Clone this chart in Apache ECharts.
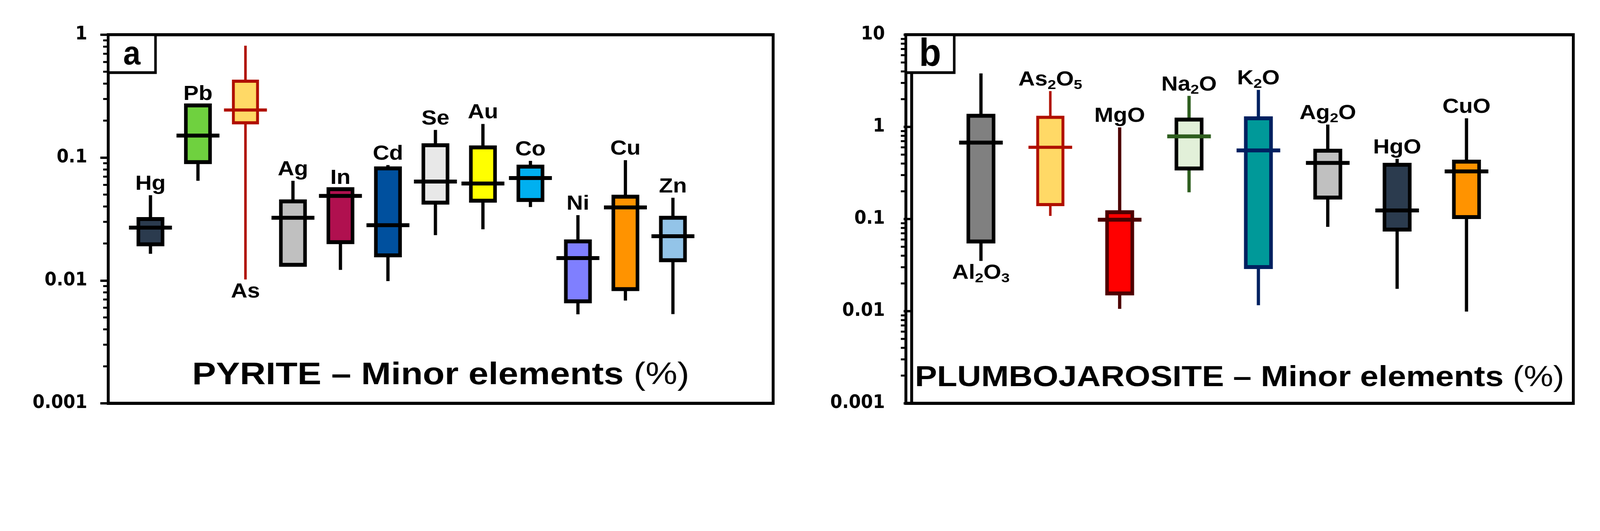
<!DOCTYPE html>
<html>
<head>
<meta charset="utf-8">
<script src="https://cdn.jsdelivr.net/npm/echarts@6/dist/echarts.min.js"></script>
<style>
html, body { margin: 0; padding: 0; background: #fff; overflow: hidden; }
#chart { width: 4435px; height: 1360px; transform-origin: 0 0; }
</style>
</head>
<body>
<div id="chart"></div>
<script>
document.addEventListener('DOMContentLoaded', function () {

/* PANEL A - PYRITE */
var pyriteNames = ['Hg', 'Pb', 'As', 'Ag', 'In', 'Cd', 'Se', 'Au', 'Co', 'Ni', 'Cu', 'Zn'];
var pyriteMin = [0.0165, 0.0648, 0.0102, 0.0134, 0.0122, 0.00987, 0.0234, 0.0261, 0.0396, 0.0053, 0.00687, 0.00532];
var pyriteQ1  = [0.0197, 0.0918, 0.192, 0.0134, 0.0205, 0.016, 0.043, 0.0446, 0.0452, 0.00677, 0.00851, 0.0146];
var pyriteMed = [0.0269, 0.151, 0.244, 0.0324, 0.0488, 0.0282, 0.0638, 0.0615, 0.0682, 0.0152, 0.0393, 0.0229];
var pyriteQ3  = [0.0316, 0.266, 0.419, 0.044, 0.0553, 0.0817, 0.126, 0.121, 0.0845, 0.0208, 0.0481, 0.0324];
var pyriteMax = [0.0494, 0.266, 0.815, 0.0648, 0.0553, 0.0869, 0.168, 0.188, 0.094, 0.034, 0.0953, 0.0471];
var pyriteFill = ['#2B3B4E', '#6FD13F', '#FFD966', '#C0C0C0', '#B0104F', '#00509E', '#E8E8E8', '#FFFF00', '#00B0F0', '#7F7FFF', '#FF9300', '#93C4E8'];
var pyriteEdge = ['#000', '#000', '#B00F00', '#000', '#000', '#000', '#000', '#000', '#000', '#000', '#000', '#000'];
var pyriteLine = ['#000', '#000', '#B00F00', '#000', '#000', '#000', '#000', '#000', '#000', '#000', '#000', '#000'];
var pyriteBelow = ['As'];
var pyriteTicks = ['0.001', '0.01', '0.1', '1'];

/* PANEL B - PLUMBOJAROSITE */
var plumboNames = ['Al2O3', 'As2O5', 'MgO', 'Na2O', 'K2O', 'Ag2O', 'HgO', 'CuO'];
var plumboMin = [0.0351, 0.108, 0.0106, 0.195, 0.0116, 0.0822, 0.0175, 0.0099];
var plumboQ1  = [0.057, 0.1435, 0.0156, 0.354, 0.0301, 0.171, 0.0769, 0.105];
var plumboMed = [0.676, 0.6, 0.0982, 0.789, 0.556, 0.407, 0.124, 0.329];
var plumboQ3  = [1.32, 1.27, 0.1186, 1.2, 1.24, 0.552, 0.388, 0.42];
var plumboMax = [3.81, 2.45, 0.989, 2.17, 2.52, 1.06, 0.45, 1.24];
var plumboFill = ['#808080', '#FFD966', '#FF0000', '#E2F0D9', '#009999', '#C0C0C0', '#2B3B4E', '#FF9300'];
var plumboEdge = ['#000', '#B00F00', '#4D0000', '#000', '#002060', '#000', '#000', '#000'];
var plumboLine = ['#000', '#B00F00', '#4D0000', '#2E5E1E', '#002060', '#000', '#000', '#000'];
var plumboBelow = ['Al2O3'];
var plumboTicks = ['0.001', '0.01', '0.1', '1', '10'];

var FONT = '"Liberation Sans", Arial, sans-serif';
var FONT_TICK = '"DejaVu Sans", sans-serif';
var STRETCH = 1.24;

var gridA = { left: 300, top: 89, width: 1843, height: 944 };
var gridB = { left: 2511, top: 89, width: 1850, height: 944 };
var xRangeA = [0.111, 14.11];
var xRangeB = [-0.082, 9.54];

/* FUNCION PARA ARMAR FILAS [x, min, q1, med, q3, max] */
function filas(mn, q1, med, q3, mx) {
	var out = [];
	for (var i = 0; i < mn.length; i++) {
		out.push([i + 1, mn[i], q1[i], med[i], q3[i], mx[i]]);
	}
	return out;
}

/* SUBINDICES CON TEXTO RICO */
function sub(name) {
	return name.replace(/(\d)/g, '{s|$1}');
}

/* FUNCION PARA DIBUJAR CADA CAJA */
function cajas(names, fills, edges, lines, below, boxW, medW) {
	return function (params, api) {
		var i = params.dataIndex;
		var x = api.value(0);
		var pMin = api.coord([x, api.value(1)]);
		var pQ1 = api.coord([x, api.value(2)]);
		var pMed = api.coord([x, api.value(3)]);
		var pQ3 = api.coord([x, api.value(4)]);
		var pMax = api.coord([x, api.value(5)]);
		var cx = pMed[0];
		var thin = lines[i] === '#B00F00';
		var isBelow = below.indexOf(names[i]) >= 0;
		return {
			type: 'group',
			children: [
				{ type: 'line', shape: { x1: cx, y1: pMax[1], x2: cx, y2: pMin[1] },
				  style: { stroke: lines[i], lineWidth: thin ? 7 : 9 } },
				{ type: 'rect', shape: { x: cx - boxW / 2, y: pQ3[1], width: boxW, height: pQ1[1] - pQ3[1] },
				  style: { fill: fills[i], stroke: edges[i], lineWidth: thin ? 8 : 10 } },
				{ type: 'line', shape: { x1: cx - medW / 2, y1: pMed[1], x2: cx + medW / 2, y2: pMed[1] },
				  style: { stroke: lines[i], lineWidth: thin ? 8 : 10 } },
				{ type: 'text', x: cx, y: isBelow ? pMin[1] + 2 : pMax[1] + 2, scaleX: STRETCH,
				  style: {
					text: sub(names[i]), fill: '#000', fontSize: 51, fontWeight: 'bold', fontFamily: FONT,
					lineHeight: 60, align: 'center', verticalAlign: isBelow ? 'top' : 'bottom',
					rich: { s: { fontSize: 34, fontWeight: 'bold', fontFamily: FONT, lineHeight: 34, verticalAlign: 'bottom', fill: '#000' } }
				  } }
			]
		};
	};
}

/* MARCAS MENORES DEL EJE LOG */
function menores(decadas, xmin) {
	var out = [];
	for (var k = 0; k < decadas.length - 1; k++) {
		var base = Number(decadas[k]);
		for (var m = 2; m <= 9; m++) out.push([xmin, base * m]);
	}
	return out;
}

function marcas(params, api) {
	var p = api.coord([api.value(0), api.value(1)]);
	return { type: 'line', shape: { x1: p[0] - 14, y1: p[1], x2: p[0], y2: p[1] },
		style: { stroke: '#000', lineWidth: 5 } };
}

function ejeY(idx, ticks) {
	return {
		type: 'log', logBase: 10, gridIndex: idx,
		min: Number(ticks[0]), max: Number(ticks[ticks.length - 1]),
		axisLine: { show: true, lineStyle: { color: '#000', width: 8 } },
		axisTick: { show: true, inside: false, length: 22, lineStyle: { color: '#000', width: 6 } },
		axisLabel: {
			color: '#000', fontSize: 48, fontWeight: 'bold', fontFamily: FONT_TICK, margin: 58,
			formatter: function (v, n) { return ticks[n]; }
		},
		splitLine: { show: false }
	};
}

function ejeX(idx, r) {
	return { type: 'value', gridIndex: idx, min: r[0], max: r[1], show: false };
}

var titulos = [
	{ g: gridA, fs: 80, y: 962, text: '{b|PYRITE – Minor elements} {n|(%)}' },
	{ g: gridB, fs: 74, y: 969, text: '{b|PLUMBOJAROSITE – Minor elements} {n|(%)}' }
];

var graficos = [];
titulos.forEach(function (t) {
	graficos.push({
		type: 'text', x: t.g.left + t.g.width / 2, y: t.y, z: 10, scaleX: STRETCH,
		style: {
			text: t.text, fill: '#000', align: 'center', verticalAlign: 'middle',
			fontSize: t.fs, fontFamily: FONT,
			rich: {
				b: { fontSize: t.fs, fontWeight: 'bold', fontFamily: FONT, fill: '#000' },
				n: { fontSize: t.fs, fontWeight: 'normal', fontFamily: FONT, fill: '#000' }
			}
		}
	});
});

/* CAJITAS DE LETRA */
[{ g: gridA, w: 131, l: 'a', fs: 86 }, { g: gridB, w: 134, l: 'b', fs: 100 }].forEach(function (c) {
	graficos.push({
		type: 'rect', z: 10, shape: { x: c.g.left, y: c.g.top, width: c.w, height: 97 },
		style: { fill: '#fff', stroke: '#000', lineWidth: 7 }
	});
	graficos.push({
		type: 'text', z: 11, x: c.g.left + c.w / 2, y: c.g.top + 52,
		style: { text: c.l, fill: '#000', fontSize: c.fs, fontWeight: 'bold', fontFamily: FONT,
			align: 'center', verticalAlign: 'middle' }
	});
});

var chartDom = document.getElementById('chart');

/* AJUSTE SI LA VENTANA ES MAS CHICA QUE 4435x1360 */
var sx = Math.min(1, window.innerWidth / 4435);
var sy = Math.min(1, window.innerHeight / 1360);
if (sx < 1 || sy < 1) chartDom.style.transform = 'scale(' + sx + ',' + sy + ')';

var myChart = echarts.init(chartDom);

myChart.setOption({
	backgroundColor: '#fff',
	animation: false,
	grid: [
		{ left: gridA.left, top: gridA.top, width: gridA.width, height: gridA.height,
		  show: true, borderColor: '#000', borderWidth: 8, backgroundColor: 'transparent' },
		{ left: gridB.left, top: gridB.top, width: gridB.width, height: gridB.height,
		  show: true, borderColor: '#000', borderWidth: 8, backgroundColor: 'transparent' }
	],
	xAxis: [ejeX(0, xRangeA), ejeX(1, xRangeB)],
	yAxis: [ejeY(0, pyriteTicks), ejeY(1, plumboTicks)],
	graphic: graficos,
	series: [
		{
			type: 'custom', xAxisIndex: 0, yAxisIndex: 0, clip: false,
			encode: { x: 0, y: [1, 2, 3, 4, 5] },
			data: filas(pyriteMin, pyriteQ1, pyriteMed, pyriteQ3, pyriteMax),
			renderItem: cajas(pyriteNames, pyriteFill, pyriteEdge, pyriteLine, pyriteBelow, 67, 119)
		},
		{
			type: 'custom', xAxisIndex: 1, yAxisIndex: 1, clip: false,
			encode: { x: 0, y: [1, 2, 3, 4, 5] },
			data: filas(plumboMin, plumboQ1, plumboMed, plumboQ3, plumboMax),
			renderItem: cajas(plumboNames, plumboFill, plumboEdge, plumboLine, plumboBelow, 70, 121)
		},
		{
			type: 'custom', xAxisIndex: 0, yAxisIndex: 0, clip: false, silent: true,
			data: menores(pyriteTicks, xRangeA[0]), renderItem: marcas
		},
		{
			type: 'custom', xAxisIndex: 1, yAxisIndex: 1, clip: false, silent: true,
			data: menores(plumboTicks, xRangeB[0]), renderItem: marcas
		}
	]
});

});
</script>
</body>
</html>
